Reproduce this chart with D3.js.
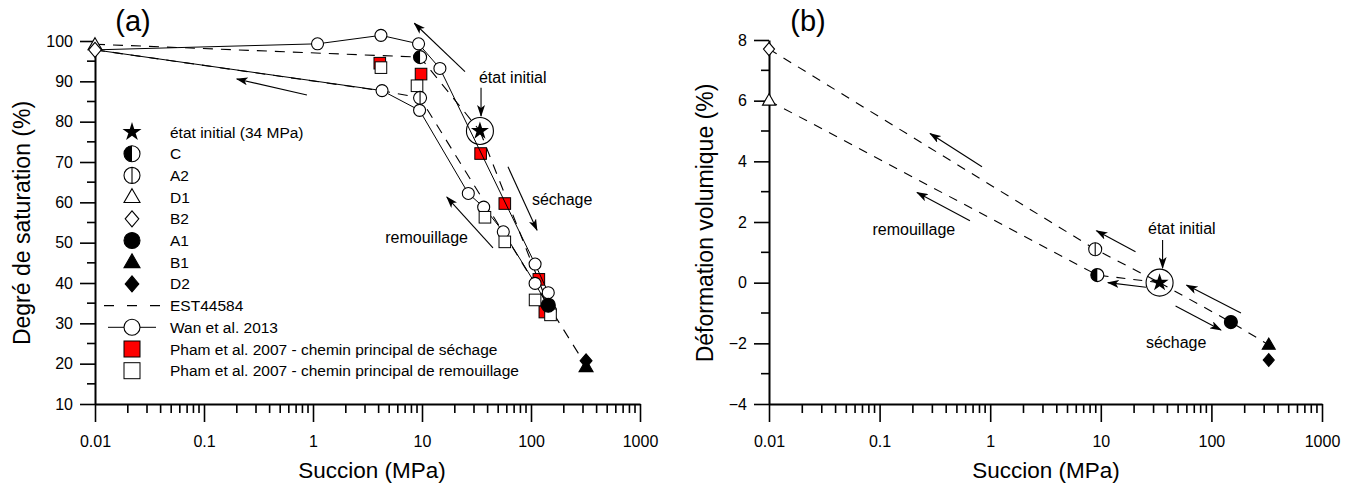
<!DOCTYPE html>
<html>
<head>
<meta charset="utf-8">
<script src="https://cdn.jsdelivr.net/npm/d3@7"></script>
<style>
body { margin: 0; background: #fff; }
text { font-family: "Liberation Sans", Arial, sans-serif; fill: #000; }
</style>
</head>
<body>
<svg id="chart" width="1350" height="488"></svg>
<script>
// ---- data ----
var xTicks = [0.01, 0.1, 1, 10, 100, 1000];
var xTickLabels = ["0.01", "0.1", "1", "10", "100", "1000"];
var srTicks = [10, 20, 30, 40, 50, 60, 70, 80, 90, 100];
var evTicks = [-4, -2, 0, 2, 4, 6, 8];

// EST44584 states
var estLabels = ["état initial (34 MPa)", "C", "A2", "D1", "B2", "A1", "B1", "D2"];
var estSymbols = ["star", "half", "vline", "tri", "diam", "dot", "triFill", "diamFill"];
var estSuccA = [34, 9.6, 9.6, 0.01, 0.01, 144, 320, 320];
var estSrA = [77.7, 96, 85.9, 99.0, 97.8, 34.5, 19.2, 20.7];
var estSuccB = [34, 9.3, 8.9, 0.01, 0.01, 150, 330, 330];
var estEvB = [0, 0.25, 1.1, 6.0, 7.7, -1.3, -2.05, -2.55];

// EST44584 dashed paths
var estPathsA = [
  [[0.01, 99.2], [9.6, 96], [34, 77.7]],
  [[34, 77.7], [144, 34.5], [320, 19.5]],
  [[0.01, 97.8], [4.4, 87.6], [9.6, 85.9], [144, 34.5]]
];
var estPathsB = [
  [[0.01, 7.7], [8.9, 1.1], [34, 0]],
  [[0.01, 6.0], [9.3, 0.25], [34, 0]],
  [[34, 0], [150, -1.3], [330, -2.05]]
];

// Wan et al. 2013
var wanSucc = [0.01, 1.1, 4.2, 9.3, 14.6, 109, 144, 150, 109, 55.7, 36.8, 26.6, 9.5, 4.3, 0.01];
var wanSr = [97.8, 99.3, 101.4, 99.3, 93.2, 44.7, 37.6, 33.3, 39.9, 52.7, 58.8, 62.2, 82.8, 87.7, 97.8];

// Pham et al. 2007
var phamDrySucc = [4.1, 9.8, 34.5, 57.5, 118, 134];
var phamDrySr = [94.5, 91.8, 72.1, 59.7, 40.9, 32.8];
var phamWetSucc = [4.2, 9.0, 37.8, 57.5, 109, 151];
var phamWetSr = [93.4, 88.9, 56.3, 50.2, 35.8, 32.1];

// annotation arrows [x1, y1, x2, y2] in data units, head at the second point
var arrowsA = [
  [24.8, 92.4, 8.5, 104.4],
  [0.88, 86.6, 0.2, 90.6],
  [34.8, 88.4, 34.8, 81.4],
  [61.5, 68.8, 113.5, 53.1],
  [44.8, 48.7, 16.9, 61.3]
];
var arrowsB = [
  [0.843, 3.82, 0.286, 4.92],
  [0.656, 2.04, 0.218, 2.97],
  [20.6, 1.02, 9.14, 1.71],
  [25.6, -0.15, 11.6, 0.0],
  [185, -1.0, 59.6, -0.08],
  [47.4, -0.77, 122, -1.56],
  [36.2, 1.41, 36.2, 0.48]
];

var svg = d3.select("#chart");

var defs = svg.append("defs");
defs.append("marker")
  .attr("id", "head")
  .attr("viewBox", "0 0 12 8")
  .attr("refX", 11).attr("refY", 4)
  .attr("markerWidth", 12).attr("markerHeight", 8)
  .attr("markerUnits", "userSpaceOnUse")
  .attr("orient", "auto")
  .append("path")
  .attr("d", "M0,0 L12,4 L0,8 L3,4 Z")
  .attr("fill", "#000");

function drawSymbol(g, type, cx, cy, r) {
  var sw = 1.1;
  if (type == "star") {
    g.append("path")
      .attr("d", d3.symbol(d3.symbolStar).size(r * r / 0.8908)())
      .attr("transform", "translate(" + cx + "," + cy + ")")
      .attr("fill", "#000");
  } else if (type == "half") {
    g.append("circle").attr("cx", cx).attr("cy", cy).attr("r", r)
      .attr("fill", "#fff").attr("stroke", "#000").attr("stroke-width", sw);
    g.append("path")
      .attr("d", "M" + cx + "," + (cy - r) + " A" + r + "," + r + " 0 0 0 " + cx + "," + (cy + r) + " Z")
      .attr("fill", "#000");
  } else if (type == "vline") {
    g.append("circle").attr("cx", cx).attr("cy", cy).attr("r", r)
      .attr("fill", "#fff").attr("stroke", "#000").attr("stroke-width", sw);
    g.append("line").attr("x1", cx).attr("x2", cx).attr("y1", cy - r).attr("y2", cy + r)
      .attr("stroke", "#000").attr("stroke-width", sw);
  } else if (type == "dot" || type == "open") {
    g.append("circle").attr("cx", cx).attr("cy", cy).attr("r", r)
      .attr("fill", type == "dot" ? "#000" : "#fff").attr("stroke", "#000").attr("stroke-width", sw);
  } else if (type == "tri" || type == "triFill") {
    var h = r * 1.05;
    g.append("path")
      .attr("d", "M" + cx + "," + (cy - h) + " L" + (cx + r) + "," + (cy + h * 0.65) + " L" + (cx - r) + "," + (cy + h * 0.65) + " Z")
      .attr("fill", type == "tri" ? "#fff" : "#000").attr("stroke", "#000").attr("stroke-width", sw);
  } else if (type == "diam" || type == "diamFill") {
    g.append("path")
      .attr("d", "M" + cx + "," + (cy - r) + " L" + (cx + r * 0.85) + "," + cy + " L" + cx + "," + (cy + r) + " L" + (cx - r * 0.85) + "," + cy + " Z")
      .attr("fill", type == "diam" ? "#fff" : "#000").attr("stroke", "#000").attr("stroke-width", sw);
  } else if (type == "sqRed" || type == "sqWhite") {
    g.append("rect").attr("x", cx - r).attr("y", cy - r).attr("width", 2 * r).attr("height", 2 * r)
      .attr("fill", type == "sqRed" ? "#ff0000" : "#fff").attr("stroke", "#000").attr("stroke-width", 1);
  }
}

var symR = { star: 9.5, half: 6.5, vline: 6.5, tri: 7, diam: 7.5, dot: 7, triFill: 7, diamFill: 7 };

function drawAxes(x, y, yTicks, yMinor, yRange) {
  var g = svg.append("g");
  var minors = [];
  [0.01, 0.1, 1, 10, 100].forEach(function(d) {
    for (var k = 2; k <= 9; k++) minors.push(d * k);
  });
  var y0 = y(yRange[0]);
  var x0 = x(0.01);

  // minor ticks
  g.selectAll(null).data(minors).enter().append("line")
    .attr("x1", function(d) { return x(d); }).attr("x2", function(d) { return x(d); })
    .attr("y1", y0).attr("y2", y0 + 9)
    .attr("stroke", "#000").attr("stroke-width", 1.6);
  g.selectAll(null).data(yMinor).enter().append("line")
    .attr("y1", function(d) { return y(d); }).attr("y2", function(d) { return y(d); })
    .attr("x1", x0 - 8).attr("x2", x0)
    .attr("stroke", "#000").attr("stroke-width", 1.6);

  g.append("g").attr("transform", "translate(0," + y0 + ")")
    .call(d3.axisBottom(x).tickValues(xTicks).tickSize(18).tickSizeOuter(0).tickPadding(14)
      .tickFormat(function(d, i) { return xTickLabels[i]; }));

  g.append("g").attr("transform", "translate(" + x0 + ",0)")
    .call(d3.axisLeft(y).tickValues(yTicks).tickSize(15).tickSizeOuter(0).tickPadding(7));

  g.selectAll(".domain").attr("stroke", "#000").attr("stroke-width", 2);
  g.selectAll(".tick line").attr("stroke", "#000").attr("stroke-width", 1.6);
  g.selectAll(".tick text").style("font-size", "16px").style("font-family", "'Liberation Sans', Arial, sans-serif");
  return g;
}

function drawArrows(g, x, y, arr) {
  g.selectAll(null).data(arr).enter().append("line")
    .attr("x1", function(d) { return x(d[0]); })
    .attr("y1", function(d) { return y(d[1]); })
    .attr("x2", function(d) { return x(d[2]); })
    .attr("y2", function(d) { return y(d[3]); })
    .attr("stroke", "#000").attr("stroke-width", 1.1)
    .attr("marker-end", "url(#head)");
}

// ===== panel (a) =====
var xa = d3.scaleLog().domain([0.01, 1000]).range([95, 640]);
var ya = d3.scaleLinear().domain([10, 100]).range([404, 41]);
var srMinor = d3.range(15, 100, 10);
drawAxes(xa, ya, srTicks, srMinor, [10, 100]);

var pa = svg.append("g");
var lineA = d3.line().x(function(d) { return xa(d[0]); }).y(function(d) { return ya(d[1]); });

// EST dashed
pa.selectAll(null).data(estPathsA).enter().append("path")
  .attr("d", lineA).attr("fill", "none").attr("stroke", "#000")
  .attr("stroke-width", 1.1).attr("stroke-dasharray", "10,8");

// Pham drying squares (behind)
phamDrySucc.forEach(function(s, i) { drawSymbol(pa, "sqRed", xa(s), ya(phamDrySr[i]), 5.8); });

// Wan line + circles
var wanPts = wanSucc.map(function(s, i) { return [s, wanSr[i]]; });
pa.append("path").attr("d", lineA(wanPts)).attr("fill", "none").attr("stroke", "#000").attr("stroke-width", 1);
wanPts.slice(1, wanPts.length - 1).forEach(function(p) { drawSymbol(pa, "open", xa(p[0]), ya(p[1]), 6); });

// Pham wetting squares
phamWetSucc.forEach(function(s, i) { drawSymbol(pa, "sqWhite", xa(s), ya(phamWetSr[i]), 5.8); });

// EST states
[3, 4, 1, 2, 5, 7, 6, 0].forEach(function(i) {
  drawSymbol(pa, estSymbols[i], xa(estSuccA[i]), ya(estSrA[i]), symR[estSymbols[i]]);
});
pa.append("circle").attr("cx", xa(estSuccA[0])).attr("cy", ya(estSrA[0])).attr("r", 13.5)
  .attr("fill", "none").attr("stroke", "#000").attr("stroke-width", 1.1);

drawArrows(pa, xa, ya, arrowsA);

pa.append("text").attr("x", xa(68)).attr("y", ya(89.6)).attr("text-anchor", "middle")
  .style("font-size", "16px").text("état initial");
pa.append("text").attr("x", xa(102)).attr("y", ya(59.4)).style("font-size", "16px").text("séchage");
pa.append("text").attr("x", xa(4.6)).attr("y", ya(50.0)).style("font-size", "16px").text("remouillage");

// legend (a)
var leg = svg.append("g");
var legX = 132, legY0 = 132, legDy = 21.7;
estLabels.forEach(function(lbl, i) {
  var yy = legY0 + i * legDy;
  var t = estSymbols[i];
  drawSymbol(leg, t, legX, yy, t == "star" ? 10 : 8);
  leg.append("text").attr("x", 170).attr("y", yy + 5.5).style("font-size", "15.5px").text(lbl);
});
var extra = ["EST44584", "Wan et al. 2013", "Pham et al. 2007 - chemin principal de séchage", "Pham et al. 2007 - chemin principal de remouillage"];
extra.forEach(function(lbl, j) {
  var yy = legY0 + (8 + j) * legDy;
  if (j == 0) {
    leg.append("line").attr("x1", 104).attr("x2", 160).attr("y1", yy).attr("y2", yy)
      .attr("stroke", "#000").attr("stroke-width", 1.1).attr("stroke-dasharray", "10,13");
  } else if (j == 1) {
    leg.append("line").attr("x1", 108).attr("x2", 156).attr("y1", yy).attr("y2", yy)
      .attr("stroke", "#000").attr("stroke-width", 1);
    drawSymbol(leg, "open", legX, yy, 8);
  } else {
    drawSymbol(leg, j == 2 ? "sqRed" : "sqWhite", legX, yy, 8);
  }
  leg.append("text").attr("x", 170).attr("y", yy + 5.5).style("font-size", "15.5px").text(lbl);
});

svg.append("text").attr("x", 133).attr("y", 31).attr("text-anchor", "middle")
  .style("font-size", "29px").text("(a)");
svg.append("text").attr("transform", "translate(30,223) rotate(-90)").attr("text-anchor", "middle")
  .style("font-size", "23px").text("Degré de saturation (%)");
svg.append("text").attr("x", 372).attr("y", 478).attr("text-anchor", "middle")
  .style("font-size", "22.5px").text("Succion (MPa)");

// ===== panel (b) =====
var xb = d3.scaleLog().domain([0.01, 1000]).range([769, 1322]);
var yb = d3.scaleLinear().domain([-4, 8]).range([404, 40]);
var evMinor = d3.range(-3, 8, 2);
drawAxes(xb, yb, evTicks, evMinor, [-4, 8]);

var pb = svg.append("g");
var lineB = d3.line().x(function(d) { return xb(d[0]); }).y(function(d) { return yb(d[1]); });
pb.selectAll(null).data(estPathsB).enter().append("path")
  .attr("d", lineB).attr("fill", "none").attr("stroke", "#000")
  .attr("stroke-width", 1.1).attr("stroke-dasharray", "9,8");

[3, 4, 1, 2, 5, 7, 6, 0].forEach(function(i) {
  var t = estSymbols[i];
  drawSymbol(pb, t, xb(estSuccB[i]), yb(estEvB[i]), t == "star" ? 9.5 : 6.5);
});
pb.append("circle").attr("cx", xb(estSuccB[0])).attr("cy", yb(estEvB[0])).attr("r", 13.5)
  .attr("fill", "none").attr("stroke", "#000").attr("stroke-width", 1.1);

drawArrows(pb, xb, yb, arrowsB);

pb.append("text").attr("x", xb(54)).attr("y", yb(1.62)).attr("text-anchor", "middle")
  .style("font-size", "16px").text("état initial");
pb.append("text").attr("x", xb(48)).attr("y", yb(-2.15)).attr("text-anchor", "middle")
  .style("font-size", "16px").text("séchage");
pb.append("text").attr("x", xb(0.204)).attr("y", yb(1.57)).attr("text-anchor", "middle")
  .style("font-size", "16px").text("remouillage");

svg.append("text").attr("x", 808).attr("y", 31).attr("text-anchor", "middle")
  .style("font-size", "29px").text("(b)");
svg.append("text").attr("transform", "translate(713,223) rotate(-90)").attr("text-anchor", "middle")
  .style("font-size", "23px").text("Déformation volumique (%)");
svg.append("text").attr("x", 1046).attr("y", 478).attr("text-anchor", "middle")
  .style("font-size", "22.5px").text("Succion (MPa)");
</script>
</body>
</html>
